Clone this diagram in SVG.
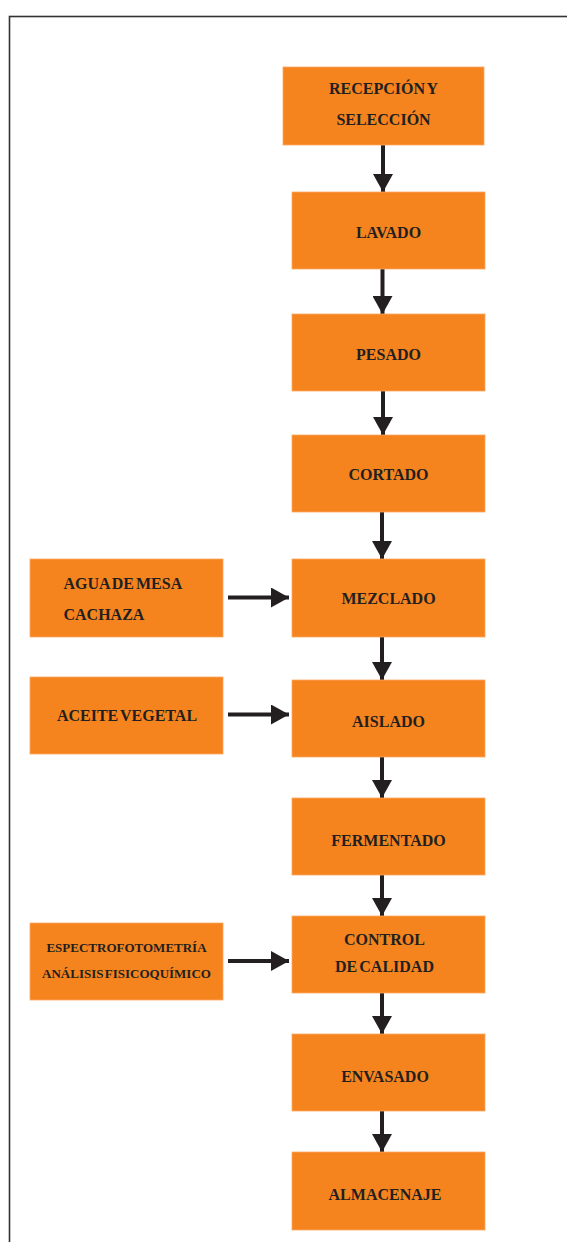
<svg xmlns="http://www.w3.org/2000/svg" width="567" height="1242" viewBox="0 0 567 1242">
<style>
.box{fill:#f5841f;stroke:#f9a860;stroke-width:0.8}
.t{font-family:"Liberation Serif","Times New Roman",serif;font-weight:bold;font-size:16px;fill:#231f20;text-anchor:middle;word-spacing:-2px}
.s{font-size:13px}
.l{text-anchor:start}
.c{stroke:#231f20;stroke-width:4;fill:none}
</style>
<defs>
<marker id="ah" markerUnits="userSpaceOnUse" markerWidth="20" markerHeight="20" refX="18" refY="10" orient="auto" viewBox="0 0 18 20">
<polygon points="0,0 18,10 0,20" fill="#231f20"/>
</marker>
</defs>
<rect x="9.5" y="16.5" width="620" height="1300" fill="#ffffff" stroke="#333333" stroke-width="1.6"/>
<g id="connectors">
<line class="c" x1="383" y1="145" x2="383" y2="192" marker-end="url(#ah)"/>
<line class="c" x1="382.5" y1="269" x2="382.5" y2="314" marker-end="url(#ah)"/>
<line class="c" x1="383" y1="391" x2="383" y2="435" marker-end="url(#ah)"/>
<line class="c" x1="382" y1="512" x2="382" y2="559" marker-end="url(#ah)"/>
<line class="c" x1="382" y1="637" x2="382" y2="680" marker-end="url(#ah)"/>
<line class="c" x1="382" y1="757" x2="382" y2="798" marker-end="url(#ah)"/>
<line class="c" x1="382" y1="875" x2="382" y2="916" marker-end="url(#ah)"/>
<line class="c" x1="382" y1="993" x2="382" y2="1034" marker-end="url(#ah)"/>
<line class="c" x1="382" y1="1111" x2="382" y2="1152" marker-end="url(#ah)"/>
<line class="c" x1="228" y1="597.5" x2="289" y2="597.5" marker-end="url(#ah)"/>
<line class="c" x1="228" y1="714.5" x2="289" y2="714.5" marker-end="url(#ah)"/>
<line class="c" x1="228" y1="961" x2="289" y2="961" marker-end="url(#ah)"/>
</g>
<g id="recepcion"><rect class="box" x="283" y="67" width="201" height="78"/><text class="t" x="383.5" y="94">RECEPCIÓN Y</text><text class="t" x="383.5" y="125">SELECCIÓN</text></g>
<g id="lavado"><rect class="box" x="292" y="192" width="193" height="77"/><text class="t" x="388.5" y="237.5">LAVADO</text></g>
<g id="pesado"><rect class="box" x="292" y="314" width="193" height="77"/><text class="t" x="388.5" y="360">PESADO</text></g>
<g id="cortado"><rect class="box" x="292" y="435" width="193" height="77"/><text class="t" x="388.5" y="480">CORTADO</text></g>
<g id="mezclado"><rect class="box" x="292" y="559" width="193" height="78"/><text class="t" x="388.5" y="604">MEZCLADO</text></g>
<g id="aislado"><rect class="box" x="292" y="680" width="193" height="77"/><text class="t" x="388.5" y="726.5">AISLADO</text></g>
<g id="fermentado"><rect class="box" x="292" y="798" width="193" height="77"/><text class="t" x="388.5" y="845.5">FERMENTADO</text></g>
<g id="control"><rect class="box" x="292" y="916" width="193" height="77"/><text class="t" x="384.5" y="945">CONTROL</text><text class="t" x="384.5" y="972">DE CALIDAD</text></g>
<g id="envasado"><rect class="box" x="292" y="1034" width="193" height="77"/><text class="t" x="385" y="1081.5">ENVASADO</text></g>
<g id="almacenaje"><rect class="box" x="292" y="1152" width="193" height="78"/><text class="t" x="385" y="1200">ALMACENAJE</text></g>
<g id="agua"><rect class="box" x="30" y="559" width="193" height="78"/><text class="t l" x="63.5" y="589">AGUA DE MESA</text><text class="t l" x="63.5" y="620">CACHAZA</text></g>
<g id="aceite"><rect class="box" x="30" y="677" width="193" height="77"/><text class="t" x="127" y="720.5">ACEITE VEGETAL</text></g>
<g id="espectro"><rect class="box" x="30" y="923" width="193" height="77"/><text class="t s" x="126.5" y="952">ESPECTROFOTOMETRÍA</text><text class="t s" x="126.5" y="977.5">ANÁLISIS FISICOQUÍMICO</text></g>
</svg>
